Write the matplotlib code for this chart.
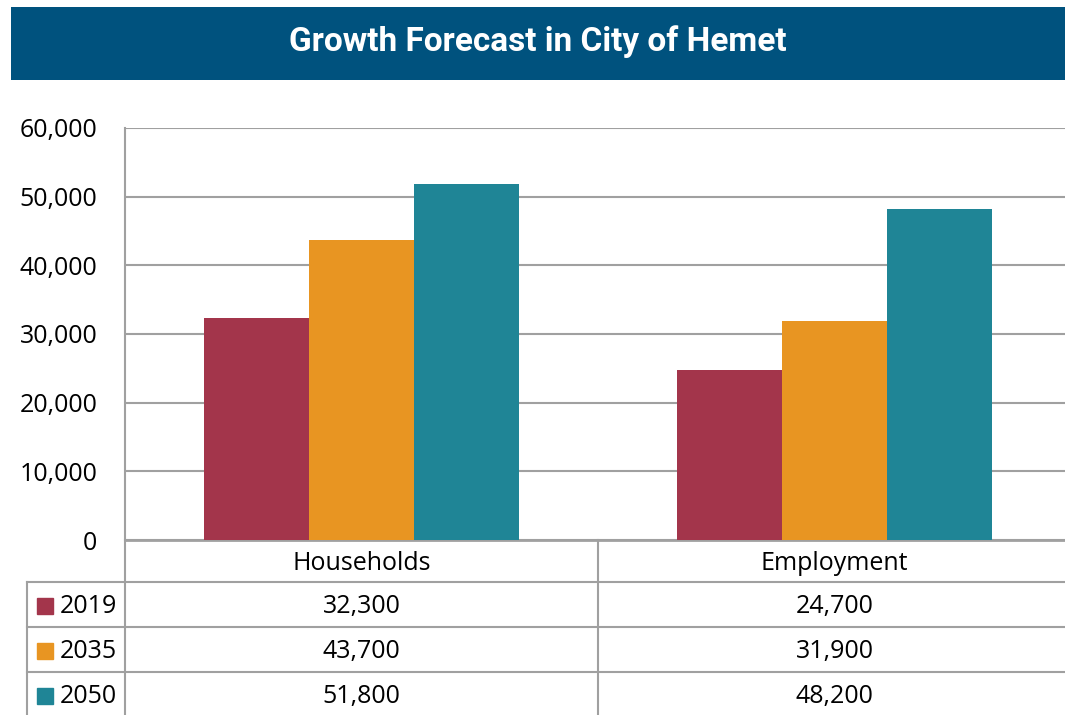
"""
 Growth forecast chart for the City of Hemet
 Clustered bars with a data table underneath
"""

# Libraries
import matplotlib
matplotlib.use("Agg")
import matplotlib.pyplot as plt
from matplotlib.patches import Rectangle

# Data
categories = ["Households", "Employment"]
years = ["2019", "2035", "2050"]
values_2019 = [32300, 24700]
values_2035 = [43700, 31900]
values_2050 = [51800, 48200]
y_ticks = [0, 10000, 20000, 30000, 40000, 50000, 60000]

# Styles
colours = ["#A3354B", "#E89522", "#1F8596"]
banner_colour = "#00527E"
line_colour = "#A0A0A0"
text_font = ["Open Sans", "DejaVu Sans"]
title_font = ["Roboto", "DejaVu Sans"]
text_size = 18

W, H = 1065, 715

def fig_rect(left, top, right, bottom):
    """Converts a pixel box to figure fractions"""
    return [left/W, 1-bottom/H, (right-left)/W, (bottom-top)/H]

fig = plt.figure(figsize=(W/100, H/100), dpi=100)

# Title banner
banner = fig.add_axes(fig_rect(11, 7, 1065, 80))
banner.set_facecolor(banner_colour)
banner.set_xticks([])
banner.set_yticks([])
for spine in banner.spines.values():
    spine.set_visible(False)
banner.text(0.5, 0.52, "Growth Forecast in City of Hemet", transform=banner.transAxes,
            ha="center", va="center", color="white", fontsize=24,
            fontweight="bold", family=title_font)

# Bar chart
ax = fig.add_axes(fig_rect(125, 128, 1071, 540))
series = [values_2019, values_2035, values_2050]
bar_width = 0.222
for i, vals in enumerate(series):
    xs = [c + (i-1)*bar_width for c in range(len(categories))]
    ax.bar(xs, vals, width=bar_width, color=colours[i], zorder=3)

ax.set_xlim(-0.5, len(categories)-0.5)
ax.set_ylim(y_ticks[0], y_ticks[-1])
ax.set_yticks(y_ticks)
ax.set_yticklabels([f"{t:,}" for t in y_ticks], family=text_font, fontsize=text_size)
ax.tick_params(axis="y", length=0, pad=20)
ax.set_xticks([])
ax.yaxis.grid(True, color=line_colour, linewidth=1.5, zorder=0)
for side in ["top", "right"]:
    ax.spines[side].set_visible(False)
ax.spines["left"].set_color(line_colour)
ax.spines["left"].set_linewidth(1.5)
ax.spines["bottom"].set_color(line_colour)
ax.spines["bottom"].set_linewidth(2)

# Data table below the bars, sharing the category axis
tab = fig.add_axes(fig_rect(125, 540, 1071, 717), sharex=ax)
tab.set_ylim(177, 0)
tab.axis("off")
row_edges = [0, 42, 87, 132, 177]
kw = dict(color=line_colour, linewidth=1.5, clip_on=False)

# Vertical lines
tab.plot([-0.5, -0.5], [0, 177], **kw)
tab.plot([0.5, 0.5], [0, 177], **kw)
left_edge = -0.5 - 98/473
tab.plot([left_edge, left_edge], [row_edges[1], 177], **kw)

# Horizontal lines
for r in row_edges[1:4]:
    tab.plot([left_edge, 1.5], [r, r], **kw)

# Header row
for c, name in enumerate(categories):
    tab.text(c, (row_edges[0]+row_edges[1])/2 + 3, name, ha="center", va="center",
             fontsize=text_size, family=text_font)

# Value rows with legend keys
key_size = 16/473
for i, vals in enumerate(series):
    y_mid = (row_edges[i+1]+row_edges[i+2])/2
    tab.add_patch(Rectangle((left_edge + 10/473, y_mid - 8 + 1), key_size, 16,
                            color=colours[i], clip_on=False))
    tab.text(left_edge + 33/473, y_mid + 2, years[i], ha="left", va="center",
             fontsize=text_size, family=text_font)
    for c, v in enumerate(vals):
        tab.text(c, y_mid + 2, f"{v:,}", ha="center", va="center",
                 fontsize=text_size, family=text_font)

fig.savefig("out.png", dpi=100)
